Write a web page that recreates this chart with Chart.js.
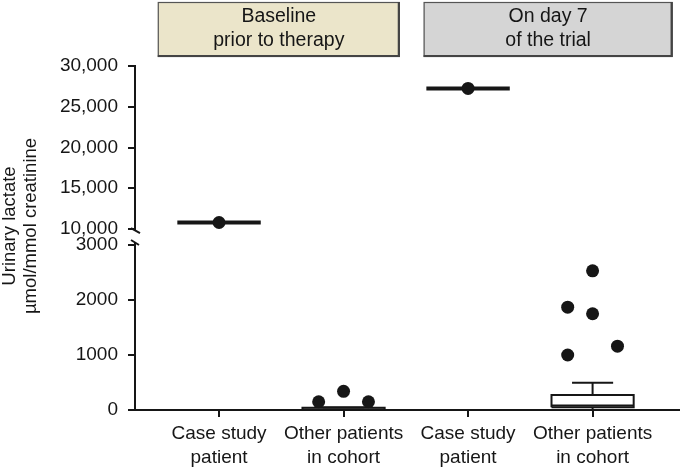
<!DOCTYPE html>
<html>
<head>
<meta charset="utf-8">
<script src="https://cdn.jsdelivr.net/npm/chart.js@4/dist/chart.umd.min.js"></script>
<style>
  html, body { margin: 0; padding: 0; background: #fff; }
  #wrap { width: 685px; height: 471px; position: relative; }
</style>
</head>
<body>
<div id="wrap"><canvas id="chart"></canvas></div>
<script>
// ── data ──
const categories = [['Case study', 'patient'], ['Other patients', 'in cohort'], ['Case study', 'patient'], ['Other patients', 'in cohort']];
const categoryX = [1, 2, 3, 4];
const headerLines = [['Baseline', 'prior to therapy'], ['On day 7', 'of the trial']];
const yTitleLines = ['Urinary lactate', 'µmol/mmol creatinine'];

const caseX = [1, 3];
const caseValues = [10800, 27250];

const baselineCohortX = [2, 2, 2];
const baselineCohortJitter = [-0.2, 0, 0.2];
const baselineCohortValues = [150, 340, 150];
// [min, q1, median, q3, max]
const baselineCohortBox = [0, 0, 10, 40, 50];

const day7CohortX = [4, 4, 4, 4, 4];
const day7CohortJitter = [0, -0.2, 0, 0.2, -0.2];
const day7CohortValues = [2530, 1870, 1750, 1160, 1000];
const day7CohortBox = [0, 50, 80, 275, 495];

const topTicks = [10000, 15000, 20000, 25000, 30000];
const bottomTicks = [0, 1000, 2000, 3000];

const FONT = "'Liberation Sans', Arial, Helvetica, sans-serif";
const INK = '#161616';

function segment(points, axis, width) {
  return {
    type: 'line',
    data: points.map(([x, y]) => ({ x, y })),
    yAxisID: axis,
    borderColor: INK,
    borderWidth: width,
    pointRadius: 0,
    fill: false,
    order: 2,
  };
}

function dots(xs, jitter, values, axis) {
  return {
    type: 'scatter',
    data: values.map((v, i) => ({ x: xs[i] + (jitter ? jitter[i] : 0), y: v })),
    yAxisID: axis,
    backgroundColor: INK,
    borderColor: INK,
    pointRadius: 6.5,
    pointBorderWidth: 0,
    order: 1,
  };
}

function boxplot(x, [lo, q1, med, q3, hi]) {
  const w = 0.33, c = 0.165;
  return [
    segment([[x - w, q1], [x + w, q1], [x + w, q3], [x - w, q3], [x - w, q1]], 'y', 2),
    segment([[x - w, med], [x + w, med]], 'y', 2),
    segment([[x, q3], [x, hi]], 'y', 2),
    segment([[x - c, hi], [x + c, hi]], 'y', 2),
    segment([[x, q1], [x, lo]], 'y', 2),
  ];
}

const datasets = [
  dots(caseX, null, caseValues, 'yTop'),
  dots(baselineCohortX, baselineCohortJitter, baselineCohortValues, 'y'),
  dots(day7CohortX, day7CohortJitter, day7CohortValues, 'y'),
  ...caseX.map((x, i) => segment([[x - 0.335, caseValues[i]], [x + 0.335, caseValues[i]]], 'yTop', 4)),
  ...boxplot(2, baselineCohortBox),
  ...boxplot(4, day7CohortBox),
];

// axis break + header boxes + y title
const decor = {
  id: 'decor',
  afterDraw(chart) {
    const ctx = chart.ctx;
    const { x, y, yTop } = chart.scales;
    const ax = chart.chartArea.left;

    // broken axis
    const upEnd = yTop.getPixelForValue(10000) + 2;
    const lowStart = y.getPixelForValue(3000) - 3;
    ctx.save();
    if (lowStart > upEnd) {
      ctx.fillStyle = '#fff';
      ctx.fillRect(ax - 6, upEnd, 12, lowStart - upEnd);
      ctx.strokeStyle = INK;
      ctx.lineWidth = 2;
      ctx.beginPath();
      ctx.moveTo(ax - 4, upEnd - 3); ctx.lineTo(ax + 5, upEnd + 2);
      ctx.moveTo(ax - 4, lowStart - 2); ctx.lineTo(ax + 4, lowStart + 3);
      ctx.stroke();
    }
    ctx.restore();

    // headers
    const spans = [[0.508, 2.452, '#ebe5ca'], [2.643, 4.643, '#d5d5d5']];
    ctx.save();
    spans.forEach(([a, b, fill], i) => {
      const l = x.getPixelForValue(a), r = x.getPixelForValue(b);
      const t = 2, bt = 57;
      ctx.fillStyle = fill;
      ctx.fillRect(l, t, r - l, bt - t);
      ctx.strokeStyle = '#555';
      ctx.lineWidth = 1.2;
      ctx.strokeRect(l + 0.5, t + 0.5, r - l - 1, bt - t - 1);
      ctx.strokeStyle = '#444';
      ctx.lineWidth = 2.2;
      ctx.beginPath();
      ctx.moveTo(l, bt - 1); ctx.lineTo(r, bt - 1);
      ctx.moveTo(r - 1, t); ctx.lineTo(r - 1, bt);
      ctx.stroke();
      ctx.fillStyle = INK;
      ctx.font = '19.5px ' + FONT;
      ctx.textAlign = 'center';
      ctx.textBaseline = 'alphabetic';
      ctx.fillText(headerLines[i][0], (l + r) / 2, 22);
      ctx.fillText(headerLines[i][1], (l + r) / 2, 46);
    });
    ctx.restore();

    // y title
    ctx.save();
    ctx.translate(0, 226);
    ctx.rotate(-Math.PI / 2);
    ctx.fillStyle = INK;
    ctx.font = '18.5px ' + FONT;
    ctx.textAlign = 'center';
    ctx.textBaseline = 'middle';
    ctx.fillText(yTitleLines[0], 0, 10);
    ctx.fillText(yTitleLines[1], 0, 31);
    ctx.restore();
  },
};

const axisGrid = { drawOnChartArea: false, drawTicks: true, tickLength: 7, color: INK, lineWidth: 2 };
const axisBorder = { display: true, color: INK, width: 2 };
const tickFont = { family: FONT, size: 19 };

new Chart(document.getElementById('chart'), {
  type: 'line',
  data: { datasets },
  plugins: [decor],
  options: {
    responsive: true,
    maintainAspectRatio: false,
    animation: false,
    layout: { padding: { top: 66, right: 0, left: 0, bottom: 0 } },
    plugins: { legend: { display: false }, tooltip: { enabled: false } },
    scales: {
      x: {
        type: 'linear',
        min: 0.325,
        max: 4.69,
        grid: axisGrid,
        border: axisBorder,
        afterBuildTicks: (s) => { s.ticks = categoryX.map((v) => ({ value: v })); },
        afterFit: (s) => { s.height = 61; },
        ticks: {
          autoSkip: false,
          maxRotation: 0,
          padding: 5,
          color: INK,
          font: { ...tickFont, lineHeight: 1.25 },
          callback: (v) => categories[categoryX.indexOf(v)],
        },
      },
      y: {
        type: 'linear',
        position: 'left',
        stack: 'y',
        stackWeight: 174.5,
        min: 0,
        max: 3173,
        grid: axisGrid,
        border: axisBorder,
        afterBuildTicks: (s) => { s.ticks = bottomTicks.map((v) => ({ value: v })); },
        afterFit: (s) => { s.width = 135; },
        ticks: {
          autoSkip: false,
          padding: 10,
          color: INK,
          font: tickFont,
          callback: (v) => String(v),
        },
      },
      yTop: {
        type: 'linear',
        position: 'left',
        stack: 'y',
        stackWeight: 169.5,
        min: 9205,
        max: 30000,
        grid: axisGrid,
        border: axisBorder,
        afterBuildTicks: (s) => { s.ticks = topTicks.map((v) => ({ value: v })); },
        afterFit: (s) => { s.width = 135; },
        ticks: {
          autoSkip: false,
          padding: 10,
          color: INK,
          font: tickFont,
          callback: (v) => v.toLocaleString('en-US'),
        },
      },
    },
  },
});
</script>
</body>
</html>
